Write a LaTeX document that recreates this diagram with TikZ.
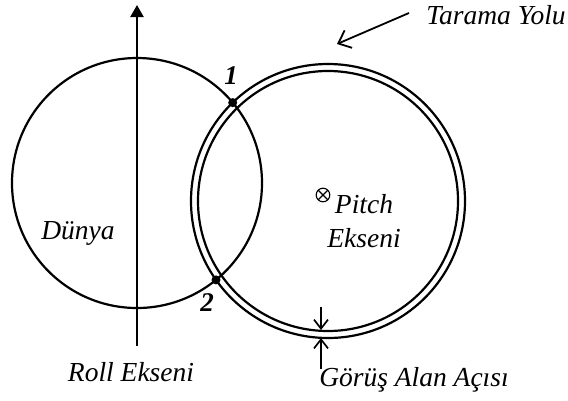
\documentclass[tikz,border=0pt]{standalone}
\usepackage{fontspec}
\setmainfont{Liberation Serif}
\usetikzlibrary{arrows.meta}
\begin{document}
\begin{tikzpicture}[x=1pt,y=-1pt,
  lbl/.style={font=\fontsize{27.5}{30}\selectfont\itshape, inner sep=0pt},
  num/.style={font=\fontsize{27}{30}\selectfont\bfseries\itshape, inner sep=0pt},
  ring/.style={line width=2.2pt},
  ptr/.style={line width=1.7pt, -{Straight Barb[length=9pt,width=14pt,line width=1.7pt]}},
  bigptr/.style={line width=1.8pt, -{Straight Barb[length=11pt,width=19pt,line width=1.8pt]}},
  dot/.style={circle, fill=black, inner sep=0pt, minimum size=9pt}]
\useasboundingbox (0,0) rectangle (568,400);
% Earth
\draw[ring] (137,183) circle (125);
% scan path (double ring)
\draw[ring] (328,201) circle (137);
\draw[ring] (328,201) circle (130);
% roll axis
\coordinate (rb) at (137,346);
\coordinate (rt) at (137,5);
\draw[line width=2.2pt, -{Triangle[length=12pt,width=13pt]}] (rb) -- (rt);
% intersection points
\node[dot] (p1) at (232.7,102.6) {};
\node[dot] (p2) at (216.0,279.9) {};
\node[num] (n1) at (231,76) {1};
\node[num] (n2) at (207,303) {2};
% labels
\node[lbl] (dunya) at (78,233) {Dünya};
\node[lbl] (roll) at (131,372) {Roll Ekseni};
\node[lbl] (tarama) at (496,15) {Tarama Yolu};
\node[lbl] (gorus) at (414,380) {Görüş Alan Açısı};
\node[lbl] (pitch) at (364,204) {Pitch};
\node[lbl] (ekseni) at (364,238) {Ekseni};
% pitch axis symbol (circled cross)
\coordinate (ot) at (323,195);
\draw[line width=1.1pt] (ot) circle (6.8);
\draw[line width=1.1pt] ([shift={(-4.8,-4.8)}]ot) -- ([shift={(4.8,4.8)}]ot);
\draw[line width=1.1pt] ([shift={(-4.8,4.8)}]ot) -- ([shift={(4.8,-4.8)}]ot);
% pointers
\coordinate (ts) at (409,13);
\coordinate (tt) at (337,44);
\draw[bigptr] (ts) -- (tt);
\coordinate (ga) at (321,307);
\coordinate (gat) at (321,330);
\coordinate (gb) at (321,369);
\coordinate (gbt) at (321,338);
\draw[ptr] (ga) -- (gat);
\draw[ptr] (gb) -- (gbt);
\end{tikzpicture}
\end{document}
